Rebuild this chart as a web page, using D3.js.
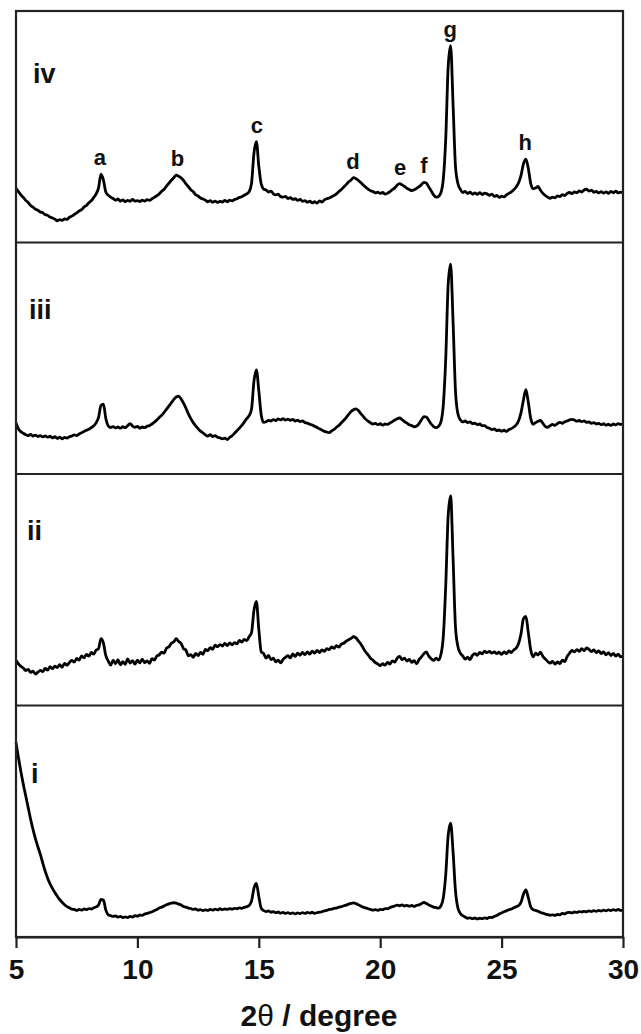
<!DOCTYPE html>
<html>
<head>
<meta charset="utf-8">
<script src="https://cdn.jsdelivr.net/npm/d3@7"></script>
<style>
  body { margin: 0; background: #fff; }
  svg { display: block; font-family: "Liberation Sans", Arial, sans-serif; }
</style>
</head>
<body>
<svg id="chart" width="641" height="1034"></svg>
<script>
// scan grid: 5.0 to 30.0 degrees, step 0.1
var thetaStart = 5, thetaStep = 0.1;

// intensities, % of panel height, one row per degree
var seriesIV = [
  23.4, 22.0, 20.6, 19.5, 18.2, 17.3, 16.0, 15.3, 14.4, 13.9,
  13.2, 12.9, 12.0, 11.8, 11.0, 10.6, 10.1, 9.4, 9.9, 9.6,
  10.2, 10.0, 10.9, 11.4, 12.1, 12.8, 13.6, 14.2, 15.3, 16.0,
  17.2, 18.0, 19.4, 21.0, 23.6, 29.5, 27.0, 21.8, 20.4, 19.6,
  19.0, 18.3, 18.8, 17.9, 18.4, 17.6, 18.2, 17.8, 18.6, 17.9,
  18.1, 17.7, 18.3, 17.9, 18.5, 18.2, 18.9, 19.5, 20.2, 21.0,
  22.1, 23.0, 24.4, 25.6, 26.9, 28.0, 29.1, 28.6, 27.9, 26.8,
  25.3, 24.1, 22.8, 21.9, 20.6, 20.1, 19.2, 18.8, 18.3, 17.6,
  18.1, 17.4, 17.9, 17.3, 17.8, 17.5, 18.2, 17.6, 18.3, 18.0,
  18.6, 18.9, 19.5, 19.8, 20.4, 21.0, 21.9, 25.5, 38.5, 43.6,
  33.0, 25.2, 23.1, 22.7, 21.8, 22.2, 21.0, 20.6, 20.9, 19.8,
  19.6, 19.9, 19.0, 19.4, 18.6, 18.9, 18.2, 18.6, 17.8, 18.1,
  17.4, 17.9, 17.1, 17.6, 17.0, 18.0, 17.5, 18.4, 18.9, 19.2,
  19.8, 20.3, 21.0, 22.0, 22.9, 24.0, 25.0, 26.2, 27.0, 28.0,
  27.6, 26.8, 25.9, 24.8, 23.9, 23.1, 22.4, 22.0, 21.4, 21.8,
  21.2, 21.6, 20.9, 21.3, 22.0, 22.8, 23.6, 24.8, 25.4, 24.9,
  24.2, 23.4, 22.9, 22.4, 22.8, 23.4, 24.1, 25.0, 26.0, 25.6,
  24.0, 22.3, 20.6, 19.6, 19.9, 21.5, 27.5, 45.0, 76.0, 85.0,
  60.0, 33.0, 25.5, 23.0, 21.6, 22.1, 21.2, 21.7, 20.9, 21.4,
  20.8, 21.5, 20.7, 21.3, 21.0, 20.4, 20.9, 19.9, 20.3, 19.5,
  20.0, 19.7, 20.6, 21.2, 21.9, 22.8, 24.0, 25.8, 29.0, 34.0,
  36.0, 32.0, 25.5, 23.2, 23.5, 24.2, 22.6, 21.2, 20.3, 19.6,
  19.1, 19.6, 19.3, 20.1, 19.8, 20.7, 20.3, 21.2, 21.6, 21.1,
  21.9, 21.5, 22.3, 21.8, 22.7, 23.0, 22.2, 22.6, 21.7, 22.1,
  21.4, 22.0, 21.3, 21.9, 21.2, 22.1, 21.5, 22.2, 21.4, 21.8,
  21.5
];

var seriesIII = [
  22.0, 19.5, 18.3, 17.6, 17.0, 16.6, 17.1, 16.4, 16.8, 16.2,
  16.6, 16.0, 16.5, 15.9, 16.3, 15.6, 16.1, 15.4, 15.9, 15.2,
  15.8, 15.5, 16.1, 16.4, 16.9, 16.6, 17.3, 17.8, 18.4, 18.9,
  19.3, 20.0, 20.8, 22.1, 24.5, 29.6, 30.2, 24.0, 20.8, 20.1,
  20.5, 19.9, 20.3, 19.8, 20.4, 20.0, 20.9, 21.8, 20.7, 20.2,
  20.6, 19.8, 20.3, 20.0, 20.7, 20.9, 21.6, 22.4, 23.3, 24.4,
  25.4, 26.6, 28.0, 29.4, 30.8, 32.2, 33.3, 33.6, 32.4, 30.6,
  28.4, 26.0, 23.9, 22.2, 20.8, 19.6, 18.5, 17.8, 16.9, 16.4,
  17.0, 16.2, 16.6, 15.9, 15.6, 15.2, 15.5, 14.9, 15.8, 16.5,
  17.6, 18.7, 19.8, 21.0, 22.4, 23.9, 25.2, 28.0, 40.0, 45.0,
  36.0, 25.5, 22.3, 22.6, 23.2, 22.9, 23.5, 23.1, 23.8, 23.4,
  23.9, 23.3, 23.7, 23.2, 23.6, 22.9, 23.3, 22.6, 22.9, 22.2,
  22.0, 21.5, 21.2, 20.6, 20.1, 19.5, 19.0, 18.4, 18.1, 17.9,
  18.6, 19.3, 20.2, 21.0, 22.1, 23.2, 24.4, 25.8, 27.0, 27.8,
  28.1, 27.4, 26.1, 24.9, 23.7, 22.8, 22.1, 21.6, 21.9, 21.3,
  21.7, 21.1, 21.6, 21.4, 22.0, 22.6, 23.3, 23.9, 24.2, 23.5,
  22.6, 22.0, 21.3, 20.9, 20.4, 20.7, 21.8, 23.4, 24.8, 24.6,
  23.2, 21.6, 20.5, 20.0, 20.6, 22.5, 30.0, 50.0, 82.0, 90.7,
  66.0, 36.0, 26.0, 23.4, 22.5, 22.9, 22.2, 22.5, 21.8, 22.0,
  21.3, 21.6, 20.8, 20.9, 20.1, 19.8, 19.2, 19.5, 18.7, 19.0,
  18.5, 18.9, 18.4, 19.2, 19.6, 20.3, 21.2, 23.0, 26.5, 32.0,
  36.4, 31.0, 24.0, 21.5, 22.2, 22.8, 23.1, 21.9, 20.5, 20.2,
  20.9, 21.4, 21.0, 21.8, 22.3, 21.9, 22.6, 22.9, 23.4, 23.6,
  23.3, 22.8, 23.1, 22.6, 22.9, 22.3, 22.5, 21.9, 22.2, 21.6,
  21.9, 21.3, 21.7, 21.1, 21.5, 21.0, 21.6, 21.2, 21.8, 21.4,
  21.7
];

var seriesII = [
  19.5, 18.0, 16.9, 16.2, 15.1, 15.6, 14.3, 14.8, 13.6, 14.4,
  15.2, 14.6, 16.0, 15.3, 16.8, 15.9, 17.0, 16.4, 17.6, 16.5,
  18.2, 17.4, 18.6, 19.5, 18.8, 20.3, 19.6, 21.4, 20.6, 22.1,
  21.3, 22.9, 22.2, 23.9, 24.6, 28.9, 27.0, 21.5, 19.2, 17.4,
  19.6, 18.1, 19.8, 17.6, 18.9, 17.8, 20.1, 18.3, 19.4, 17.9,
  19.6, 18.4, 20.0, 18.5, 19.3, 18.2, 20.2, 19.6, 21.4, 21.9,
  23.0, 22.6, 24.8, 25.4, 26.9, 27.5, 28.9, 27.6, 26.8, 24.6,
  23.9, 21.4, 22.0, 20.8, 22.5, 21.6, 22.9, 22.1, 24.2, 23.6,
  25.0, 24.3, 26.1, 25.4, 26.3, 25.7, 26.8, 25.9, 27.0, 26.2,
  27.2, 26.6, 28.1, 27.4, 28.6, 28.0, 29.7, 31.5, 41.0, 45.0,
  33.0, 23.2, 22.4, 20.5, 21.6, 19.8, 20.4, 18.9, 19.6, 18.4,
  19.9, 20.8, 21.5, 20.6, 22.3, 21.2, 22.6, 21.7, 22.9, 22.0,
  23.1, 22.2, 23.5, 22.6, 23.8, 22.9, 24.0, 23.4, 24.6, 24.1,
  25.3, 24.7, 25.8, 25.2, 26.5, 26.9, 27.8, 28.4, 29.0, 29.7,
  29.2, 27.9, 26.6, 24.8, 23.1, 21.9, 20.4, 19.6, 18.5, 18.0,
  17.2, 18.1, 17.4, 18.6, 17.9, 19.3, 18.7, 20.5, 21.2, 19.8,
  20.4, 19.2, 19.9, 18.6, 19.4, 18.0, 19.8, 21.0, 22.4, 23.1,
  21.3, 20.2, 19.5, 20.4, 19.6, 22.0, 30.0, 52.0, 82.0, 90.5,
  64.0, 34.0, 25.5, 22.6, 21.4, 20.0, 20.9, 19.8, 21.6, 22.4,
  21.7, 22.9, 22.3, 23.5, 22.8, 23.4, 22.6, 23.2, 22.4, 23.0,
  22.1, 23.1, 22.4, 23.6, 22.9, 24.0, 24.8, 26.8, 31.0, 37.5,
  38.5, 31.5, 24.0, 21.0, 22.6, 21.8, 23.0, 21.2, 20.1, 19.0,
  18.3, 19.1, 17.9, 18.8, 18.1, 19.6, 19.0, 21.2, 22.6, 23.8,
  23.2, 24.1, 23.4, 24.6, 23.7, 24.9, 24.2, 23.3, 24.0, 22.8,
  23.6, 22.4, 23.2, 21.9, 22.8, 21.6, 22.5, 21.3, 22.2, 21.0,
  21.5
];

var seriesI = [
  84.0, 77.5, 71.5, 66.0, 61.0, 56.0, 51.0, 46.5, 42.5, 39.0,
  35.8, 32.0, 28.5, 25.5, 23.0, 21.0, 19.2, 17.6, 16.2, 15.0,
  13.9, 13.1, 12.6, 12.0, 11.9, 11.5, 11.9, 11.6, 12.1, 11.8,
  12.3, 12.1, 12.6, 13.0, 13.8, 16.2, 16.0, 11.6, 9.6, 9.2,
  8.9, 9.1, 8.6, 8.9, 8.4, 8.7, 8.4, 8.9, 8.6, 9.2,
  9.0, 9.5, 9.3, 9.9, 10.2, 10.5, 10.9, 11.4, 11.9, 12.5,
  12.9, 13.4, 13.9, 14.3, 14.6, 14.8, 14.6, 14.2, 13.8, 13.2,
  12.9, 12.5, 12.3, 11.9, 12.1, 11.6, 11.8, 11.4, 11.7, 11.5,
  11.9, 11.6, 12.0, 11.7, 12.2, 11.8, 12.1, 11.9, 12.3, 12.0,
  12.4, 12.2, 12.6, 12.4, 12.8, 13.1, 13.6, 15.5, 21.0, 23.2,
  17.5, 12.4, 11.4, 11.0, 11.3, 10.7, 11.0, 10.5, 10.8, 10.3,
  10.6, 10.2, 10.5, 10.1, 10.4, 10.0, 10.4, 10.1, 10.5, 10.2,
  10.6, 10.3, 10.7, 10.2, 10.5, 10.7, 10.9, 11.3, 11.5, 11.9,
  12.0, 12.4, 12.5, 12.9, 13.1, 13.5, 13.8, 14.2, 14.5, 14.7,
  14.4, 13.9, 13.4, 12.9, 12.6, 12.2, 11.9, 11.6, 11.8, 11.5,
  11.9, 11.8, 12.3, 12.2, 12.7, 13.1, 13.4, 13.8, 13.5, 13.9,
  13.4, 13.7, 13.3, 13.6, 13.2, 13.7, 13.9, 14.4, 14.9, 14.5,
  13.8, 13.4, 12.9, 12.7, 12.5, 13.4, 17.0, 27.0, 44.0, 49.2,
  37.0, 20.0, 12.5, 10.2, 9.2, 8.6, 8.1, 8.3, 7.9, 8.2,
  7.8, 8.1, 7.9, 8.3, 8.0, 8.5, 8.4, 8.9, 9.3, 9.9,
  10.4, 10.9, 11.3, 11.8, 12.1, 12.6, 13.1, 13.6, 15.0, 18.5,
  20.3, 17.0, 13.0, 11.8, 11.5, 11.1, 10.6, 10.3, 9.9, 9.7,
  9.4, 9.6, 9.3, 9.8, 9.6, 10.2, 10.0, 10.5, 10.6, 10.4,
  10.8, 10.6, 11.0, 10.8, 11.1, 10.9, 11.3, 11.0, 11.4, 11.1,
  11.5, 11.2, 11.6, 11.3, 11.7, 11.4, 11.8, 11.5, 11.9, 11.5,
  11.6
];

// panels from top to bottom
var panelNames = ["iv", "iii", "ii", "i"];
var panelSeries = [seriesIV, seriesIII, seriesII, seriesI];

// peak labels on the top trace
var peakLetters = ["a", "b", "c", "d", "e", "f", "g", "h"];
var peakTheta = [8.45, 11.65, 14.92, 18.88, 20.82, 21.8, 22.88, 25.97];

var xTicks = [5, 10, 15, 20, 25, 30];

var svg = d3.select("#chart");

var plotLeft = 16, plotRight = 623, plotTop = 11, plotBottom = 937;
var panelH = (plotBottom - plotTop) / panelSeries.length;

var x = d3.scaleLinear().domain([5, 30]).range([plotLeft, plotRight]);

// where each panel's name sits, relative to the panel top
var nameOffsets = [[33, 72], [29, 76], [27, 66], [31, 77]];

panelSeries.forEach(function(values, p) {
  var y0 = plotTop + p * panelH;
  var y = d3.scaleLinear().domain([0, 100]).range([y0 + panelH, y0]);

  var pts = values.map(function(v, i) {
    return [thetaStart + i * thetaStep, v];
  });

  var line = d3.line()
    .x(function(d) { return x(d[0]); })
    .y(function(d) { return y(d[1]); })
    .curve(d3.curveMonotoneX);

  svg.append("path")
    .datum(pts)
    .attr("d", line)
    .attr("fill", "none")
    .attr("stroke", "#000")
    .attr("stroke-width", 2.8)
    .attr("stroke-linejoin", "round");

  svg.append("text")
    .attr("x", nameOffsets[p][0])
    .attr("y", y0 + nameOffsets[p][1])
    .attr("font-size", 27)
    .attr("font-weight", "bold")
    .attr("fill", "#111")
    .text(panelNames[p]);

  // divider under every panel but the last
  if (p < panelSeries.length - 1) {
    svg.append("line")
      .attr("x1", plotLeft).attr("x2", plotRight)
      .attr("y1", y0 + panelH).attr("y2", y0 + panelH)
      .attr("stroke", "#222")
      .attr("stroke-width", 2.2);
  }

  // letters above the peaks of the top trace
  if (p === 0) {
    peakLetters.forEach(function(letter, k) {
      var near = pts.filter(function(d) { return Math.abs(d[0] - peakTheta[k]) <= 0.25; });
      var hi = d3.max(near, function(d) { return d[1]; });
      svg.append("text")
        .attr("x", x(peakTheta[k]))
        .attr("y", y(hi) - 9)
        .attr("text-anchor", "middle")
        .attr("font-size", 22)
        .attr("font-weight", "bold")
        .attr("fill", "#111")
        .text(letter);
    });
  }
});

// outer frame
svg.append("rect")
  .attr("x", plotLeft).attr("y", plotTop)
  .attr("width", plotRight - plotLeft).attr("height", plotBottom - plotTop)
  .attr("fill", "none")
  .attr("stroke", "#222")
  .attr("stroke-width", 2.2);

// bottom axis
var axis = svg.append("g")
  .attr("transform", "translate(0," + plotBottom + ")")
  .call(d3.axisBottom(x).tickValues(xTicks).tickSize(11).tickPadding(11).tickSizeOuter(0));

axis.select(".domain").attr("stroke", "#222").attr("stroke-width", 2.2);
axis.selectAll(".tick line").attr("stroke", "#222").attr("stroke-width", 2.2);
axis.selectAll(".tick text")
  .attr("font-size", 28)
  .attr("font-weight", "bold")
  .attr("font-family", "'Liberation Sans', Arial, sans-serif")
  .attr("fill", "#111");

// axis title
var title = svg.append("text")
  .attr("x", 319)
  .attr("y", 1026)
  .attr("text-anchor", "middle")
  .attr("font-size", 30)
  .attr("font-weight", "bold")
  .attr("fill", "#111");
title.append("tspan").text("2");
title.append("tspan").attr("font-weight", "normal").text("θ");
title.append("tspan").text(" / degree");
</script>
</body>
</html>
